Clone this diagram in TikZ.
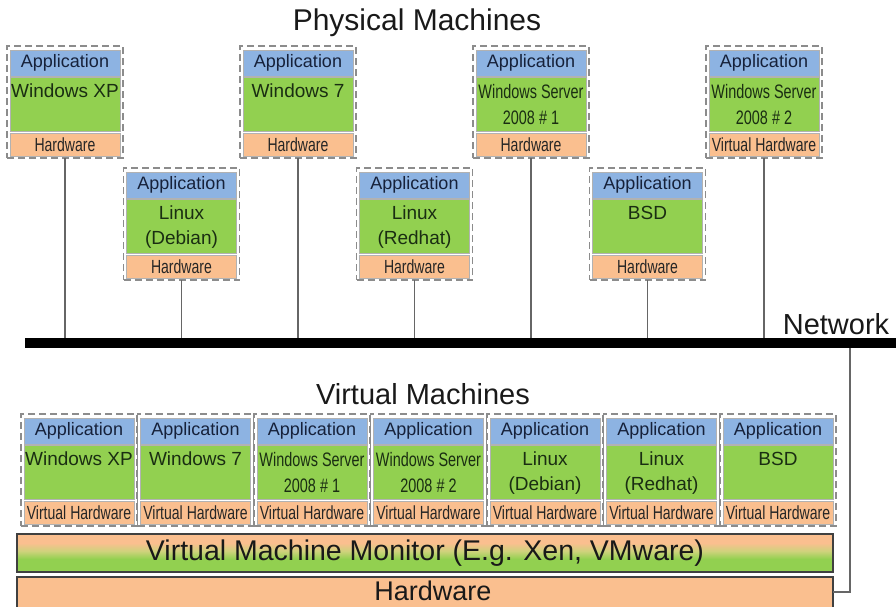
\documentclass[tikz,border=0pt]{standalone}
\usepackage{fontspec}
\setmainfont{Liberation Sans}
\newfontfamily\narrowf[FakeStretch=0.74]{Liberation Sans}
\definecolor{appblue}{HTML}{8DB3E2}
\definecolor{osgreen}{HTML}{92D050}
\definecolor{hworange}{HTML}{FABF8F}
\definecolor{ygmid}{HTML}{CFD27C}
\definecolor{dashgray}{HTML}{8C8C8C}
\definecolor{linegray}{HTML}{666666}
\definecolor{ostextc}{HTML}{1A2E12}
\definecolor{apptextc}{HTML}{16213A}
\tikzset{
  outerbox/.style={draw=dashgray, dash pattern=on 7pt off 4pt, line width=1.1pt,
    minimum width=116pt, minimum height=112pt, anchor=north west, inner sep=0pt, outer sep=0pt},
  appbox/.style={fill=appblue, draw=black!30, line width=0.6pt, minimum width=110pt,
    minimum height=26pt, anchor=north west, inner sep=0pt, outer sep=0pt,
    text=apptextc, font=\fontsize{18}{20}\selectfont},
  osbox/.style={fill=osgreen, draw=black!30, line width=0.6pt, minimum width=110pt,
    minimum height=54pt, anchor=north west, inner sep=0pt, outer sep=0pt},
  ostext/.style={anchor=north, inner sep=0pt, align=center, text=ostextc},
  osnormal/.style={font=\fontsize{19}{25}\selectfont},
  osnarrow/.style={font=\narrowf\fontsize{19.5}{26}\selectfont},
  hwbox/.style={fill=hworange, draw=black!30, line width=0.6pt, minimum width=110pt,
    minimum height=23pt, anchor=north west, inner sep=0pt, outer sep=0pt,
    text=black!85, font=\narrowf\fontsize{19}{20}\selectfont},
  conn/.style={draw=linegray, line width=1.4pt},
  titletext/.style={inner sep=0pt, text=black!90},
  bigbox/.style={draw=black!75, line width=1.2pt, minimum width=816pt, anchor=north west,
    inner sep=0pt, outer sep=0pt, text=black!90},
}
\newcommand\machbox[6]{%
  \node[outerbox] (#1) at (#2,#3) {};
  \node[appbox] (#1-app) at (#2+3,#3+4) {Application};
  \node[osbox] (#1-os) at (#2+3,#3+31) {};
  \node[ostext,#4] (#1-ost) at ([yshift=-7pt]#1-os.north) {#5};
  \node[hwbox] (#1-hw) at (#2+3,#3+87) {#6};
}
\begin{document}
\begin{tikzpicture}[x=1pt,y=-1pt]
\useasboundingbox (0,0) rectangle (896,606);
\clip (0,0) rectangle (896,606);

% titles
\node[titletext, font=\fontsize{30}{34}\selectfont] (ptitle) at (417,23) {Physical Machines};
\node[titletext, font=\fontsize{29}{34}\selectfont] (vtitle) at (423,394) {Virtual Machines};

% physical machines
\machbox{p1}{7}{46}{osnormal}{Windows XP}{Hardware}
\machbox{p2}{123.5}{168}{osnormal}{Linux\\(Debian)}{Hardware}
\machbox{p3}{240}{46}{osnormal}{Windows 7}{Hardware}
\machbox{p4}{356.5}{168}{osnormal}{Linux\\(Redhat)}{Hardware}
\machbox{p5}{473}{46}{osnarrow}{Windows Server\\2008 \# 1}{Hardware}
\machbox{p6}{589.5}{168}{osnormal}{BSD}{Hardware}
\machbox{p7}{706}{46}{osnarrow}{Windows Server\\2008 \# 2}{Virtual Hardware}

% network bar
\node[fill=black, draw=none, minimum width=871pt, minimum height=10pt, anchor=north west,
  inner sep=0pt, outer sep=0pt] (net) at (25,338) {};
\node[titletext, font=\fontsize{29}{34}\selectfont] (netlabel) at (836,324) {Network};

\foreach \m in {p1,p2,p3,p4,p5,p6,p7}{
  \draw[conn] (\m.south) -- (\m.south |- net.north);
}

% virtual machines
\machbox{v1}{21}{414}{osnormal}{Windows XP}{Virtual Hardware}
\machbox{v2}{137.5}{414}{osnormal}{Windows 7}{Virtual Hardware}
\machbox{v3}{254}{414}{osnarrow}{Windows Server\\2008 \# 1}{Virtual Hardware}
\machbox{v4}{370.5}{414}{osnarrow}{Windows Server\\2008 \# 2}{Virtual Hardware}
\machbox{v5}{487}{414}{osnormal}{Linux\\(Debian)}{Virtual Hardware}
\machbox{v6}{603.5}{414}{osnormal}{Linux\\(Redhat)}{Virtual Hardware}
\machbox{v7}{720}{414}{osnormal}{BSD}{Virtual Hardware}

% VMM background: orange at top fading through yellow-green to green at bottom
\fill[hworange] (17,534) rectangle (833,543.5);
\foreach \i in {0,...,7}{
  \pgfmathsetmacro\pp{100-\i*12.5}
  \fill[hworange!\pp!ygmid] (17,543+\i) rectangle (833,544.3+\i);
}
\foreach \i in {0,...,7}{
  \pgfmathsetmacro\pp{100-\i*12.5}
  \fill[ygmid!\pp!osgreen] (17,551+\i) rectangle (833,552.3+\i);
}
\fill[osgreen] (17,559) rectangle (833,572);
\node[bigbox, minimum height=38pt, font=\fontsize{28.5}{32}\selectfont] (vmm) at (17,534)
  {Virtual Machine Monitor (E.g. Xen, VMware)};
\node[bigbox, minimum height=34pt, fill=hworange] (hw) at (17,577) {};
\node[titletext, font=\fontsize{27}{30}\selectfont] (hwtext) at (433,591) {Hardware};

\coordinate (nd) at (850,348);
\coordinate (ndb) at (850,592);
\draw[conn] (nd) -- (ndb) -- (ndb -| hw.east);
\end{tikzpicture}
\end{document}
